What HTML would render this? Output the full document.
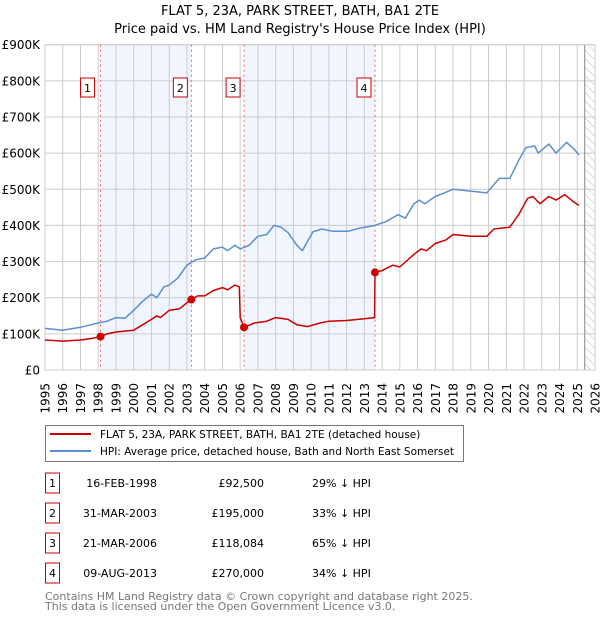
<!DOCTYPE html>
<html><head><meta charset="utf-8"><style>
body{margin:0;background:#fff;font-family:"Liberation Sans","DejaVu Sans",sans-serif}
svg text{font-family:"DejaVu Sans","Liberation Sans",sans-serif}
</style></head><body>
<svg id="c" width="600" height="620" xmlns="http://www.w3.org/2000/svg"></svg>
<script>
const hpiYears=[1995,1996,1997,1998,1998.5,1999,1999.5,2000,2000.5,2001,2001.3,2001.7,2002,2002.5,2003,2003.5,2004,2004.5,2005,2005.3,2005.7,2006,2006.5,2007,2007.5,2007.9,2008.3,2008.7,2009.2,2009.5,2010.1,2010.6,2011.2,2012.1,2012.7,2013.5,2014.2,2014.9,2015.3,2015.8,2016.1,2016.4,2017,2017.5,2018,2019,2019.9,2020.6,2021.2,2021.7,2022.1,2022.6,2022.8,2023.4,2023.8,2024.4,2024.8,2025.1];
const hpiValues=[115,110,118,130,135,145,143,165,190,210,200,230,235,255,290,305,310,335,340,330,345,335,345,370,375,400,395,380,345,330,382,390,384,384,392,399,410,430,420,460,470,460,480,490,500,495,490,530,530,580,615,620,600,625,600,630,612,595];
const priceYears=[1995,1996,1997,1997.7,1998.13,1998.5,1999,2000,2000.5,2001,2001.3,2001.5,2002,2002.6,2003.1,2003.25,2003.6,2004,2004.5,2005,2005.3,2005.7,2005.95,2006.0,2006.22,2006.8,2007.5,2008,2008.7,2009.2,2009.8,2010.5,2011,2012,2013,2013.58,2013.6,2014,2014.6,2015,2015.8,2016.2,2016.5,2017,2017.6,2018,2019,2019.9,2020.3,2021.2,2021.7,2022.2,2022.5,2022.9,2023.4,2023.8,2024.3,2024.8,2025.1];
const priceValues=[83,80,83,88,92.5,100,105,110,125,140,150,145,165,170,190,195,205,205,220,228,222,235,230,145,118,130,135,145,140,125,120,130,135,137,142,145,270,275,290,285,320,335,330,350,360,375,370,370,390,395,430,475,480,460,480,470,485,465,455];
const saleYears=[1998.13,2003.25,2006.22,2013.6];
const saleValues=[92.5,195,118.084,270];
const saleLabels=["1","2","3","4"];
const saleDates=["16-FEB-1998","31-MAR-2003","21-MAR-2006","09-AUG-2013"];
const salePrices=["£92,500","£195,000","£118,084","£270,000"];
const saleDiffs=["29% ↓ HPI","33% ↓ HPI","65% ↓ HPI","34% ↓ HPI"];
const yTicks=[0,100,200,300,400,500,600,700,800,900];
const yTickLabels=["£0","£100K","£200K","£300K","£400K","£500K","£600K","£700K","£800K","£900K"];

const L=45,R=595,T=44.7,B=370,X0=1995,X1=2026,Y1=900;
const sx=y=>L+(y-X0)*(R-L)/(X1-X0);
const sy=v=>B-v*(B-T)/Y1;
const svg=document.getElementById('c');
const NS='http://www.w3.org/2000/svg';
function mk(tag,attrs,txt){const e=document.createElementNS(NS,tag);for(const k in attrs)e.setAttribute(k,attrs[k]);if(txt!==undefined)e.textContent=txt;svg.appendChild(e);return e;}

let e;
e=mk('text',{x:300,y:15,'text-anchor':'middle','font-size':13},'FLAT 5, 23A, PARK STREET, BATH, BA1 2TE');


e=mk('text',{x:300,y:33,'text-anchor':'middle','font-size':13},"Price paid vs. HM Land Registry's House Price Index (HPI)");



for(let i=0;i<saleYears.length-1;i+=2){
  e=mk('rect',{x:sx(saleYears[i]),y:T,width:sx(saleYears[i+1])-sx(saleYears[i]),height:B-T,fill:'#eef3fd',opacity:0.8});
  
  
}
const defs=document.createElementNS(NS,'defs');
defs.innerHTML='<pattern id="h" width="6" height="6" patternUnits="userSpaceOnUse" patternTransform="rotate(-45)"><line x1="0" y1="0" x2="0" y2="6" stroke="#bbb" stroke-width="1"/></pattern>';
svg.appendChild(defs);
e=mk('rect',{x:sx(2025.42),y:T,width:R-sx(2025.42),height:B-T,fill:'url(#h)'});


for(let y=X0;y<=X1;y++){
  e=mk('line',{x1:sx(y),x2:sx(y),y1:T,y2:B,stroke:'#ccc','stroke-width':1});
  
  
  const tx=sx(y)+4.5,ty=383;
  e=mk('text',{x:tx,y:ty,'text-anchor':'end','font-size':12,transform:'rotate(-90 '+tx+' '+ty+')'},String(y));
  
  
}
yTicks.forEach((v,i)=>{
  e=mk('line',{x1:L,x2:R,y1:sy(v),y2:sy(v),stroke:'#ccc','stroke-width':1});
  
  
  e=mk('text',{x:40,y:sy(v)+4.5,'text-anchor':'end','font-size':12},yTickLabels[i]);
  
  
});
e=mk('line',{x1:sx(2025.42),x2:sx(2025.42),y1:T,y2:B,stroke:'#888','stroke-width':1});


e=mk('rect',{x:L,y:T,width:R-L,height:B-T,fill:'none',stroke:'#ccc'});



saleYears.forEach((y,i)=>{
  e=mk('line',{x1:sx(y),x2:sx(y),y1:T,y2:B,stroke:'#e66','stroke-width':1,'stroke-dasharray':'2,3'});
  
  
  e=mk('rect',{x:sx(y)-18+ (i==0?-2:0),y:78,width:14,height:19,fill:'#fff',stroke:'#c00'});
  
  
  e=mk('text',{x:sx(y)-11+(i==0?-2:0),y:92,'text-anchor':'middle','font-size':11},saleLabels[i]);
  
  
});

function path(xs,vs,col,name){
  const d=xs.map((x,i)=>(i?'L':'M')+sx(x).toFixed(1)+','+sy(vs[i]).toFixed(1)).join('');
  const p=mk('path',{d:d,fill:'none',stroke:col,'stroke-width':1.5,'stroke-linejoin':'round'});
  
  
}
path(hpiYears,hpiValues,'#5b8fd4','hpi-line');
path(priceYears,priceValues,'#cc0000','price-paid-line');
saleYears.forEach((y,i)=>{
  e=mk('circle',{cx:sx(y),cy:sy(saleValues[i]),r:4,fill:'#cc0000'});
  
  
});

e=mk('rect',{x:45.5,y:425.5,width:418,height:36,fill:'#fff',stroke:'#777'});


e=mk('line',{x1:50,x2:91,y1:434,y2:434,stroke:'#cc0000','stroke-width':2});


e=mk('text',{x:100,y:438,'font-size':10.5},'FLAT 5, 23A, PARK STREET, BATH, BA1 2TE (detached house)');


e=mk('line',{x1:50,x2:91,y1:451,y2:451,stroke:'#5b8fd4','stroke-width':2});


e=mk('text',{x:100,y:455,'font-size':10.5},'HPI: Average price, detached house, Bath and North East Somerset');



saleLabels.forEach((l,i)=>{
  const cy=483+30*i;
  e=mk('rect',{x:45.5,y:cy-10,width:14,height:20,fill:'#fff',stroke:'#c00'});
  
  
  e=mk('text',{x:52.5,y:cy+4,'text-anchor':'middle','font-size':11},l);
  
  
  e=mk('text',{x:157,y:cy+4,'text-anchor':'end','font-size':11},saleDates[i]);
  
  
  e=mk('text',{x:264,y:cy+4,'text-anchor':'end','font-size':11},salePrices[i]);
  
  
  e=mk('text',{x:312,y:cy+4,'font-size':11},saleDiffs[i]);
  
  
});
e=mk('text',{x:45,y:600,'font-size':11,fill:'#777'},'Contains HM Land Registry data © Crown copyright and database right 2025.');


e=mk('text',{x:45,y:610,'font-size':11,fill:'#777'},'This data is licensed under the Open Government Licence v3.0.');


</script>
</body></html>
